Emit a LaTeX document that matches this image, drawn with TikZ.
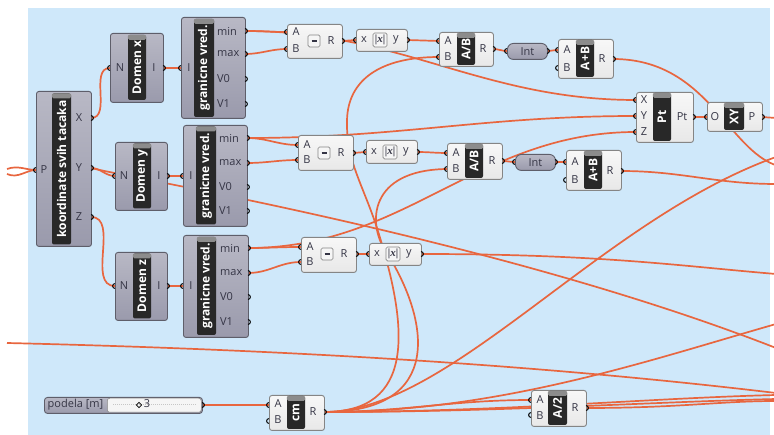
\documentclass[tikz,border=0pt]{standalone}
\usepackage{fontspec}
\setmainfont{Open Sans}
\newfontfamily\ghserif{Liberation Serif}
\pgfdeclarelayer{bg}
\pgfdeclarelayer{wires}
\pgfsetlayers{bg,wires,main}
\definecolor{canvas}{HTML}{CFE8FA}
\definecolor{wirec}{HTML}{E8663F}
\definecolor{gfill}{HTML}{9A9AAC}
\definecolor{gedge}{HTML}{5E5E6A}
\definecolor{ledge}{HTML}{858585}
\definecolor{stripc}{HTML}{282828}
\definecolor{capc}{HTML}{8C8C8C}
\definecolor{txt}{HTML}{353545}
\tikzset{
 gcomp/.style={draw=gedge,line width=0.9pt,rounded corners=2.5pt,top color=gfill!70!white,bottom color=gfill,anchor=north west,inner sep=0pt},
 lcomp/.style={draw=ledge,line width=0.9pt,rounded corners=2.5pt,top color=white!94!gray,bottom color=white!82!gray,anchor=north west,inner sep=0pt},
 intst/.style={draw=gedge,line width=0.9pt,rounded corners=6pt,top color=gfill!70!white,bottom color=gfill,anchor=north west,inner sep=0pt,text=txt,font=\fontsize{11}{11}\selectfont},
 stripbox/.style={fill=stripc,rounded corners=2pt,rotate=90,text=white,font=\bfseries\fontsize{12}{12}\selectfont,inner sep=0pt},
 pl/.style={text=txt,font=\fontsize{11}{11}\selectfont,inner sep=0pt},
 plw/.style={pl,anchor=west},
 symb/.style={draw=ledge,line width=0.7pt,fill=white!93!gray,rounded corners=1.5pt,minimum size=12pt,inner sep=0pt,text=txt},
 portst/.style={draw=black,line width=1pt},
 wr/.style={draw=wirec,line width=1.7pt},
}
\newcommand\ghbox[6]{\node[#6,minimum width=#4pt,minimum height=#5pt] (#1) at (#2,#3) {};}
\newcommand\ghstrip[6]{\node[stripbox,minimum width=#4pt,minimum height=#5pt] (#1) at (#2,#3) {#6};
 \fill[capc,rounded corners=1.5pt] (#1.north east) rectangle ([yshift=-5pt]#1.south east);}
\newcommand\ghin[3]{\coordinate (#1) at (#2,#3); \draw[portst] (#1) ++(0pt,2.4pt) arc[start angle=90,end angle=270,radius=2.4pt];}
\newcommand\ghout[3]{\coordinate (#1) at (#2,#3); \draw[portst] (#1) ++(0pt,2.4pt) arc[start angle=90,end angle=-90,radius=2.4pt];}
\newcommand\pl[4]{\node[pl] (#1) at (#2,#3) {#4};}
\newcommand\plw[4]{\node[plw] (#1) at (#2,#3) {#4};}
\newcommand\absx{{\ghserif\bfseries\fontsize{11}{11}\selectfont|\itshape x\upshape|}}
\newcommand\minussym{\textcolor{txt}{\rule[0pt]{5pt}{1.8pt}}}
\begin{document}
\begin{tikzpicture}[x=1pt,y=-1pt]
\useasboundingbox (0,0) rectangle (774,435);
\begin{pgfonlayer}{bg}
\fill[white] (0,0) rectangle (774,435);
\fill[canvas] (28,8) rectangle (770,435);
\end{pgfonlayer}

% ---------- gray components
\ghbox{koord}{36}{91}{55}{155}{gcomp}
\ghstrip{koordS}{61.5}{169}{151}{19}{koordinate svih tacaka}
\ghin{kP}{36}{170}\ghout{kX}{91}{118}\ghout{kY}{91}{168}\ghout{kZ}{91}{217}
\pl{kPl}{44}{170}{P}\pl{kXl}{79}{118}{X}\pl{kYl}{79}{168}{Y}\pl{kZl}{79}{217}{Z}

\ghbox{domx}{110}{33}{53}{69}{gcomp}
\ghstrip{domxS}{137}{67.5}{65}{18}{Domen x}
\ghin{dxN}{110}{68}\ghout{dxI}{163}{68}
\pl{dxNl}{120}{68}{N}\pl{dxIl}{154}{68}{I}

\ghbox{granT}{181}{17}{64}{101}{gcomp}
\ghstrip{granTS}{204}{68}{98}{20}{granicne vred.}
\ghin{gtI}{181}{68}\ghout{gtMin}{245}{31}\ghout{gtMax}{245}{54}\ghout{gtV0}{245}{79}\ghout{gtV1}{245}{104}
\pl{gtIl}{189}{68}{I}\plw{gtMinl}{217}{31}{min}\plw{gtMaxl}{217}{54}{max}\plw{gtV0l}{217}{79}{V0}\plw{gtV1l}{217}{104}{V1}

\ghbox{domy}{115}{142}{52}{68}{gcomp}
\ghstrip{domyS}{142}{176}{65}{18}{Domen y}
\ghin{dyN}{115}{176}\ghout{dyI}{167}{176}
\pl{dyNl}{124}{176}{N}\pl{dyIl}{159}{176}{I}

\ghbox{granM}{183}{125}{64}{101}{gcomp}
\ghstrip{granMS}{206}{175.5}{98}{20}{granicne vred.}
\ghin{gmI}{183}{176}\ghout{gmMin}{247}{138}\ghout{gmMax}{247}{163}\ghout{gmV0}{247}{187}\ghout{gmV1}{247}{211}
\pl{gmIl}{191}{176}{I}\plw{gmMinl}{219}{138}{min}\plw{gmMaxl}{219}{163}{max}\plw{gmV0l}{219}{187}{V0}\plw{gmV1l}{219}{211}{V1}

\ghbox{domz}{115}{252}{52}{68}{gcomp}
\ghstrip{domzS}{142}{286}{65}{18}{Domen z}
\ghin{dzN}{115}{286}\ghout{dzI}{167}{286}
\pl{dzNl}{124}{286}{N}\pl{dzIl}{159}{286}{I}

\ghbox{granB}{183}{235}{65}{102}{gcomp}
\ghstrip{granBS}{206.5}{286}{98}{19}{granicne vred.}
\ghin{gbI}{183}{286}\ghout{gbMin}{248}{248}\ghout{gbMax}{248}{273}\ghout{gbV0}{248}{297}\ghout{gbV1}{248}{322}
\pl{gbIl}{191}{286}{I}\plw{gbMinl}{220}{248}{min}\plw{gbMaxl}{220}{273}{max}\plw{gbV0l}{220}{297}{V0}\plw{gbV1l}{220}{322}{V1}

% ---------- top row
\ghbox{subT}{287}{24}{55}{34}{lcomp}
\node[symb] (subTs) at (314,41) {\minussym};
\ghin{stA}{287}{32}\ghin{stB}{287}{49}\ghout{stR}{342}{41}
\pl{stAl}{296}{32}{A}\pl{stBl}{296}{49}{B}\pl{stRl}{331}{41}{R}

\ghbox{absT}{356}{29}{51}{22}{lcomp}
\node[symb,minimum size=14pt] (absTs) at (380,40) {\absx};
\ghin{atX}{356}{40}\ghout{atY}{407}{40}
\pl{atXl}{364}{40}{x}\pl{atYl}{396}{40}{y}

\ghbox{abT}{439}{32}{54}{34}{lcomp}
\ghstrip{abTS}{466}{49}{32}{18}{A/B}
\ghin{btA}{439}{41}\ghin{btB}{439}{57}\ghout{btR}{493}{49}
\pl{btAl}{448}{41}{A}\pl{btBl}{448}{57}{B}\pl{btRl}{483}{49}{R}

\node[intst,minimum width=40pt,minimum height=16pt] (intT) at (507,43) {Int};
\ghin{itI}{507}{51}\ghout{itO}{547}{51}

\ghbox{apT}{558}{39}{55}{39}{lcomp}
\ghstrip{apTS}{585}{58.5}{37}{18}{A+B}
\ghin{aptA}{558}{50}\ghin{aptB}{558}{68}\ghout{aptR}{613}{59}
\pl{aptAl}{567}{50}{A}\pl{aptBl}{567}{68}{B}\pl{aptRl}{602}{59}{R}

\ghbox{pt}{636}{92}{57}{50}{lcomp}
\ghstrip{ptS}{662}{117}{48}{18}{Pt}
\ghin{pX}{636}{100}\ghin{pY}{636}{116}\ghin{pZ}{636}{132}\ghout{pOut}{693}{117}
\pl{pXl}{644}{100}{X}\pl{pYl}{644}{116}{Y}\pl{pZl}{644}{132}{Z}\pl{pOutl}{682}{117}{Pt}

\ghbox{xy}{707}{102}{55}{29}{lcomp}
\ghstrip{xyS}{734}{116.5}{27}{20}{XY}
\ghin{xyO}{707}{117}\ghout{xyP}{762}{117}
\pl{xyOl}{715}{117}{O}\pl{xyPl}{752}{117}{P}

% ---------- middle row
\ghbox{subM}{298}{135}{55}{35}{lcomp}
\node[symb] (subMs) at (324,153) {\minussym};
\ghin{smA}{298}{145}\ghin{smB}{298}{160}\ghout{smR}{353}{153}
\pl{smAl}{307}{145}{A}\pl{smBl}{307}{160}{B}\pl{smRl}{341}{153}{R}

\ghbox{absM}{366}{140}{51}{23}{lcomp}
\node[symb,minimum size=14pt] (absMs) at (390,152) {\absx};
\ghin{amX}{366}{152}\ghout{amY}{417}{152}
\pl{amXl}{374}{152}{x}\pl{amYl}{406}{152}{y}

\ghbox{abM}{447}{143}{55}{36}{lcomp}
\ghstrip{abMS}{474}{161}{34}{18}{A/B}
\ghin{bmA}{447}{153}\ghin{bmB}{447}{169}\ghout{bmR}{502}{161}
\pl{bmAl}{456}{153}{A}\pl{bmBl}{456}{169}{B}\pl{bmRl}{492}{161}{R}

\node[intst,minimum width=40pt,minimum height=16pt] (intM) at (515,154) {Int};
\ghin{imI}{515}{162}\ghout{imO}{555}{162}

\ghbox{apM}{566}{150}{55}{40}{lcomp}
\ghstrip{apMS}{593}{170}{38}{18}{A+B}
\ghin{apmA}{566}{162}\ghin{apmB}{566}{180}\ghout{apmR}{621}{171}
\pl{apmAl}{575}{162}{A}\pl{apmBl}{575}{180}{B}\pl{apmRl}{610}{171}{R}

% ---------- bottom row
\ghbox{subB}{301}{237}{55}{35}{lcomp}
\node[symb] (subBs) at (327,254) {\minussym};
\ghin{sbA}{301}{247}\ghin{sbB}{301}{262}\ghout{sbR}{356}{254}
\pl{sbAl}{310}{247}{A}\pl{sbBl}{310}{262}{B}\pl{sbRl}{344}{254}{R}

\ghbox{absB}{369}{243}{52}{22}{lcomp}
\node[symb,minimum size=14pt] (absBs) at (393,254) {\absx};
\ghin{abX}{369}{254}\ghout{abY}{421}{254}
\pl{abXl}{377}{254}{x}\pl{abYl}{409}{254}{y}

\ghbox{cm}{269}{395}{55}{35}{lcomp}
\ghstrip{cmS}{296}{412.5}{33}{18}{cm}
\ghin{cmA}{269}{405}\ghin{cmB}{269}{421}\ghout{cmR}{324}{412}
\pl{cmAl}{278}{404}{A}\pl{cmBl}{278}{420}{B}\pl{cmRl}{313}{412}{R}

\ghbox{a2}{531}{390}{55}{36}{lcomp}
\ghstrip{a2S}{557.5}{408}{34}{19}{A/2}
\ghin{a2A}{531}{400}\ghin{a2B}{531}{415}\ghout{a2R}{586}{408}
\pl{a2Al}{540}{400}{A}\pl{a2Bl}{540}{416}{B}\pl{a2Rl}{575}{408}{R}

% ---------- slider
\node[gcomp,rounded corners=3pt,minimum width=158pt,minimum height=16pt] (slider) at (44,397) {};
\node[anchor=north west,fill=white!92!gray,draw=ledge,line width=0.5pt,rounded corners=2.5pt,minimum width=94pt,minimum height=14pt,inner sep=0pt] (sliderR) at (107,398) {};
\draw[gray!45,line width=0.6pt,dash pattern=on 1pt off 1pt] (113,404) -- (196,404);
\node[pl,font=\fontsize{11}{11}\selectfont] (sliderT) at (75.5,405) {podela [m]};
\node[draw=black,line width=0.7pt,rotate=45,minimum size=3.8pt,inner sep=0pt] (sdia) at (139,405) {};
\node[pl,font=\fontsize{11}{11}\selectfont] (sval) at (147,404) {3};
\ghout{slO}{202}{405}

% ---------- free ends
\coordinate (eL1) at (7,169);
\coordinate (eL2) at (7,174);
\coordinate (eL3) at (7,343);
\coordinate (eY) at (776,348);
\coordinate (eAB) at (790,168);
\coordinate (eAP) at (776,184);
\coordinate (eXY) at (776,118);
\coordinate (eAbs) at (776,274);
\coordinate (eC1) at (776,157);
\coordinate (eC2) at (776,324);
\coordinate (eC3) at (776,395);
\coordinate (eC4) at (776,399);
\coordinate (eA2) at (776,401);
\coordinate (eL3r) at (776,393);

% ---------- wires
\begin{pgfonlayer}{wires}
\draw[wr] (eL1) .. controls (18,165) and (26,170) .. (kP);
\draw[wr] (eL2) .. controls (18,179) and (26,170) .. (kP);
\draw[wr] (kX) to[out=0,in=180] (dxN);
\draw[wr] (kY) to[out=0,in=180] (dyN);
\draw[wr] (kZ) to[out=0,in=180] (dzN);
\draw[wr] (kY) .. controls (130,178) and (500,240) .. (eY);
\draw[wr] (dxI) -- (gtI);
\draw[wr] (dyI) -- (gmI);
\draw[wr] (dzI) -- (gbI);
\draw[wr] (gtMin) to[out=0,in=180] (stA);
\draw[wr] (gtMax) to[out=0,in=180] (stB);
\draw[wr] (gtMin) to[out=0,in=180] (pX);
\draw[wr] (gmMin) to[out=0,in=180] (smA);
\draw[wr] (gmMax) to[out=0,in=180] (smB);
\draw[wr] (gmMin) to[out=0,in=180] (pY);
\draw[wr] (gbMin) to[out=0,in=180] (sbA);
\draw[wr] (gbMax) to[out=0,in=180] (sbB);
\draw[wr] (gbMin) to[out=0,in=180] (pZ);
\draw[wr] (stR) -- (atX);
\draw[wr] (atY) -- (btA);
\draw[wr] (btR) to[out=0,in=180] (itI);
\draw[wr] (itO) to[out=0,in=180] (aptA);
\draw[wr] (aptR) .. controls (715,59) and (730,165) .. (eAB);
\draw[wr] (smR) -- (amX);
\draw[wr] (amY) to[out=0,in=180] (bmA);
\draw[wr] (bmR) to[out=0,in=180] (imI);
\draw[wr] (imO) -- (apmA);
\draw[wr] (apmR) to[out=0,in=180] (eAP);
\draw[wr] (sbR) -- (abX);
\draw[wr] (abY) .. controls (600,254) and (680,266) .. (eAbs);
\draw[wr] (pOut) -- (xyO);
\draw[wr] (xyP) -- (eXY);
\draw[wr] (slO) -- (cmA);
\draw[wr] (cmR) .. controls (415,412) and (410,330) .. (376,225) .. controls (362,183) and (346,160) .. (347,120) .. controls (348,80) and (380,57) .. (btB);
\draw[wr] (cmR) .. controls (445,412) and (430,320) .. (385,250) .. controls (368,224) and (368,170) .. (bmB);
\draw[wr] (cmR) .. controls (450,412) and (600,220) .. (eC1);
\draw[wr] (cmR) .. controls (500,412) and (650,360) .. (eC2);
\draw[wr] (cmR) .. controls (500,412) and (650,398) .. (eC3);
\draw[wr] (cmR) .. controls (500,412) and (650,402) .. (eC4);
\draw[wr] (cmR) to[out=0,in=180] (a2A);
\draw[wr] (a2R) .. controls (680,408) and (720,401) .. (eA2);
\draw[wr] (eL3) .. controls (300,350) and (550,366) .. (eL3r);
\end{pgfonlayer}
\end{tikzpicture}
\end{document}
